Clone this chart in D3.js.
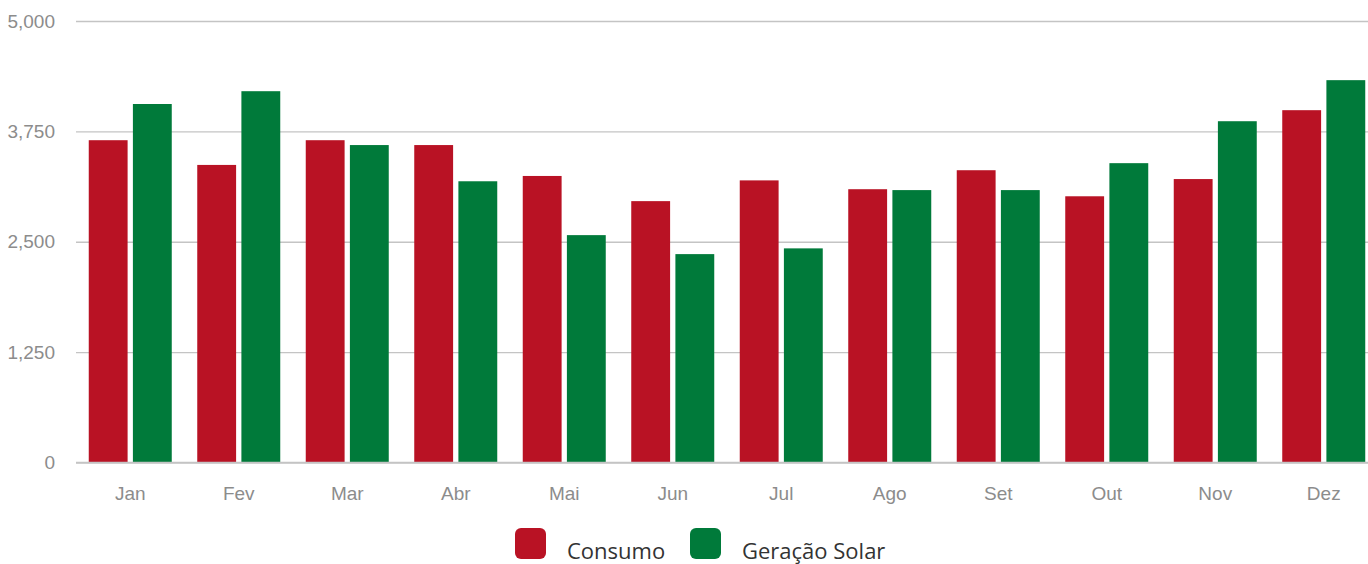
<!DOCTYPE html>
<html>
<head>
<meta charset="utf-8">
<script src="https://cdn.jsdelivr.net/npm/d3@7"></script>
<style>
  body { margin: 0; background: #fff; }
  #main { width: 1368px; height: 564px; overflow: hidden; }
  .tick text { fill: #8c8c8c; font-family: "Liberation Sans", Arial, sans-serif; font-size: 19px; }
  .legend text { font-family: "Open Sans", "Noto Sans", sans-serif; font-size: 22px; fill: #333; }
</style>
</head>
<body>
<div id="main"></div>
<script>
// months, series values and ticks
const months = ['Jan', 'Fev', 'Mar', 'Abr', 'Mai', 'Jun', 'Jul', 'Ago', 'Set', 'Out', 'Nov', 'Dez'];
const consumo = [3650, 3370, 3650, 3595, 3245, 2960, 3195, 3095, 3310, 3015, 3210, 3990];
const geracao = [4060, 4205, 3595, 3185, 2575, 2360, 2425, 3085, 3085, 3390, 3865, 4330];
const yTicks = [0, 1250, 2500, 3750, 5000];
const seriesNames = ['Consumo', 'Geração Solar'];
const colors = ['#b91224', '#007a3a'];

const width = 1368;
const height = 564;

const svg = d3.select('#main')
  .append('svg')
  .attr('width', width)
  .attr('height', height);

// scales
const x0 = d3.scaleBand()
  .domain(months)
  .range([76, 1378])
  .paddingInner(0.235)
  .paddingOuter(0.1175);

const x1 = d3.scaleBand()
  .domain(seriesNames)
  .range([0, x0.bandwidth()])
  .paddingInner(0.12);

const y = d3.scaleLinear().domain([0, 5000]).range([462.5, 21]);

// gridlines + y labels
const yAxis = d3.axisLeft(y)
  .tickValues(yTicks)
  .tickSize(-(width - 76))
  .tickPadding(21)
  .tickFormat(d3.format(','));

svg.append('g')
  .attr('transform', 'translate(76,0)')
  .call(yAxis)
  .call(g => g.select('.domain').remove())
  .call(g => g.selectAll('.tick line').attr('stroke', '#c4c4c4').attr('stroke-width', 1.3));

// bars
const rows = months.map((m, i) => ({ month: m, values: [consumo[i], geracao[i]] }));

svg.append('g').selectAll('g')
  .data(rows)
  .enter().append('g')
  .attr('transform', d => 'translate(' + x0(d.month) + ',0)')
  .selectAll('rect')
  .data(d => d.values.map((v, k) => ({ key: seriesNames[k], value: v, k: k })))
  .enter().append('rect')
  .attr('x', d => x1(d.key))
  .attr('y', d => y(d.value))
  .attr('width', x1.bandwidth())
  .attr('height', d => y(0) - y(d.value))
  .attr('fill', d => colors[d.k]);

// baseline
svg.append('line')
  .attr('x1', 76).attr('x2', width)
  .attr('y1', y(0)).attr('y2', y(0))
  .attr('stroke', '#c4c4c4').attr('stroke-width', 1.5);

// x labels
const xAxis = d3.axisBottom(x0).tickSize(0).tickPadding(24);
svg.append('g')
  .attr('transform', 'translate(0,' + y(0) + ')')
  .call(xAxis)
  .call(g => g.select('.domain').remove());

// legend
const legend = svg.append('g').attr('class', 'legend');
const legendX = [515, 690];
seriesNames.forEach((name, i) => {
  legend.append('rect')
    .attr('x', legendX[i]).attr('y', 528)
    .attr('width', 31).attr('height', 31)
    .attr('rx', 6).attr('ry', 6)
    .attr('fill', colors[i]);
  legend.append('text')
    .attr('x', legendX[i] + 52)
    .attr('y', 559)
    .text(name);
});
</script>
</body>
</html>
